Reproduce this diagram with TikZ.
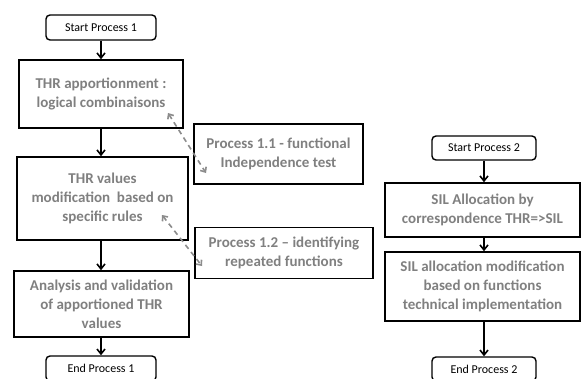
\documentclass[tikz,border=0pt]{standalone}
\usepackage{fontspec}
\setmainfont{Carlito}
\usetikzlibrary{arrows.meta}
\definecolor{txtgray}{HTML}{808080}
\definecolor{dashgray}{HTML}{8C8C8C}
\tikzset{
  procbox/.style={draw=black, line width=1.6pt, fill=white, align=center, inner sep=2pt,
    font=\fontsize{15}{19}\selectfont\bfseries, text=txtgray},
  termbox/.style={draw=black, line width=1.4pt, rounded corners=4pt, fill=white, align=center,
    font=\fontsize{12}{14}\selectfont, text=black},
  flow/.style={line width=1.6pt, -{Straight Barb[length=5pt,width=8pt,line width=1.6pt]}},
  link/.style={draw=dashgray, line width=1.6pt, dash pattern=on 5pt off 4pt,
    {Straight Barb[length=4pt,width=7pt]}-{Straight Barb[length=4pt,width=7pt]}}
}
\begin{document}
\begin{tikzpicture}[x=1pt,y=-1pt]
\useasboundingbox (0,0) rectangle (583,378);
% left process
\node[termbox, minimum width=110pt, minimum height=25pt] (s1) at (101,27.5) {Start Process 1};
\node[procbox, minimum width=164pt, minimum height=68pt] (b1) at (101,94) {THR apportionment :\\logical combinaisons};
\node[procbox, minimum width=171pt, minimum height=83pt] (b2) at (102.5,198.5) {THR values\\modification\ \ based on\\specific rules};
\node[procbox, minimum width=175pt, minimum height=66pt] (b3) at (101.5,304) {Analysis and validation\\of apportioned THR\\values};
\node[termbox, minimum width=110pt, minimum height=25pt] (e1) at (101,368.5) {End Process 1};
\draw[flow] (s1.south) -- (b1.north);
\draw[flow] (b1.south) -- (b2.north -| b1.south);
\draw[flow] (b2.south -| b1.south) -- (b3.north -| b1.south);
\draw[flow] (b3.south -| b1.south) -- (e1.north);
% sub processes
\node[procbox, minimum width=169pt, minimum height=60pt] (p11) at (278.5,154) {Process 1.1 - functional\\Independence test};
\node[procbox, minimum width=178pt, minimum height=51pt] (p12) at (284,253) {Process 1.2 -- identifying\\repeated functions};
\coordinate (a1) at (168,113);
\coordinate (a2) at (206,173);
\coordinate (c1) at (162,215);
\coordinate (c2) at (202,266);
\draw[link] (a1) -- (a2);
\draw[link] (c1) -- (c2);
% right process
\node[termbox, minimum width=104pt, minimum height=24pt] (s2) at (484,148) {Start Process 2};
\node[procbox, minimum width=195pt, minimum height=54pt] (r1) at (482.5,210) {SIL Allocation by\\correspondence THR=>SIL};
\node[procbox, minimum width=195pt, minimum height=69pt] (r2) at (482.5,286.5) {SIL allocation modification\\based on functions\\technical implementation};
\node[termbox, minimum width=104pt, minimum height=24pt] (e2) at (484,369) {End Process 2};
\draw[flow] (s2.south) -- (r1.north -| s2.south);
\draw[flow] (r1.south -| s2.south) -- (r2.north -| s2.south);
\draw[flow] (r2.south -| s2.south) -- (e2.north -| s2.south);
\end{tikzpicture}
\end{document}
